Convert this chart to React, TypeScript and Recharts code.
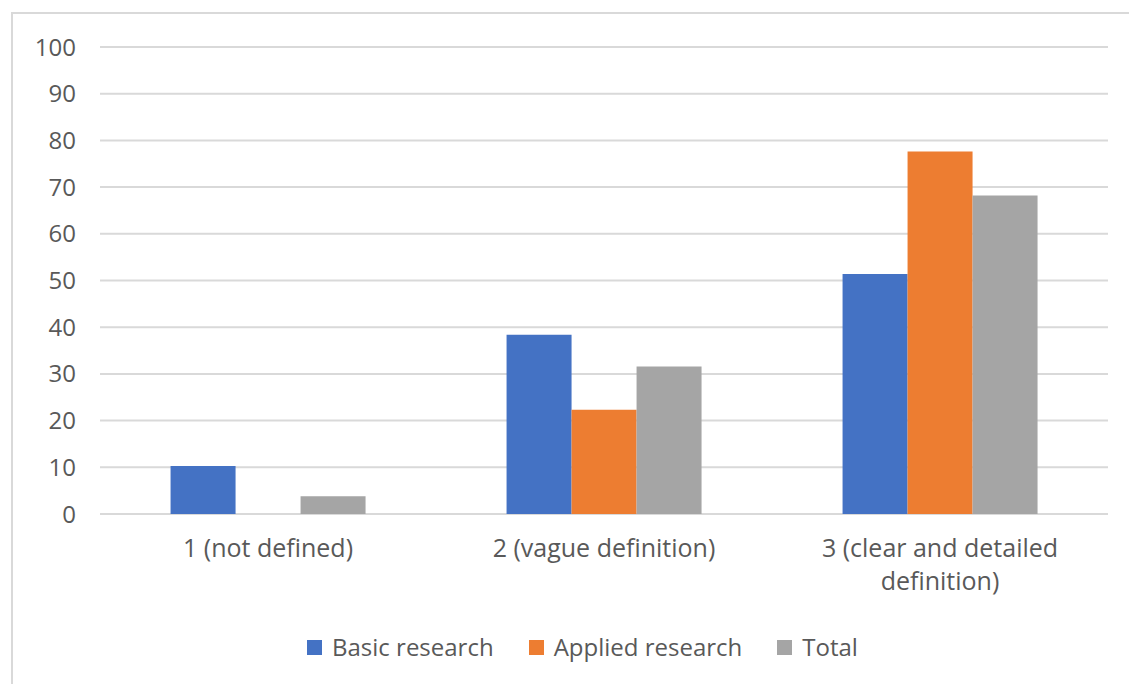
import React from 'react';
import { BarChart, Bar, XAxis, YAxis, CartesianGrid } from 'recharts';

const categories = ['1 (not defined)', '2 (vague definition)', '3 (clear and detailed definition)'];
const basicResearch = [10.3, 38.4, 51.4];
const appliedResearch = [0, 22.3, 77.6];
const total = [3.8, 31.6, 68.2];
const yTicks = [0, 10, 20, 30, 40, 50, 60, 70, 80, 90, 100];

const series = [
  { key: 'basic', name: 'Basic research', color: '#4472C4' },
  { key: 'applied', name: 'Applied research', color: '#ED7D31' },
  { key: 'total', name: 'Total', color: '#A5A5A5' },
];

const data = categories.map((category, i) => ({
  category,
  basic: basicResearch[i],
  applied: appliedResearch[i],
  total: total[i],
}));

const FONT = '"Open Sans", sans-serif';
const TEXT = '#595959';
const TICK_FONT_SIZE = 25;

// greedy word wrap using canvas text metrics
function wrapLabel(label: string, maxWidth: number): string[] {
  const ctx = document.createElement('canvas').getContext('2d');
  if (!ctx) return [label];
  ctx.font = `${TICK_FONT_SIZE}px ${FONT}`;
  const words = label.split(' ');
  const lines: string[] = [];
  let line = '';
  words.forEach(w => {
    const next = line ? line + ' ' + w : w;
    if (line && ctx.measureText(next).width > maxWidth) {
      lines.push(line);
      line = w;
    } else {
      line = next;
    }
  });
  if (line) lines.push(line);
  return lines;
}

function CategoryTick({ x, y, payload }: any) {
  const lines = wrapLabel(payload.value, 290);
  return (
    <text x={x} y={y} textAnchor="middle" fill={TEXT} fontSize={TICK_FONT_SIZE} fontFamily={FONT}>
      {lines.map((l, i) => (
        <tspan key={i} x={x} dy={i === 0 ? '0.71em' : 33}>
          {l}
        </tspan>
      ))}
    </text>
  );
}

export default function App() {
  return (
    <div style={{ position: 'absolute', top: 0, left: 0, width: 1129, height: 684, background: '#fff', overflow: 'hidden' }}>
      <div
        style={{
          position: 'absolute',
          left: 11,
          top: 12,
          width: 1200,
          height: 800,
          borderLeft: '2px solid #d9d9d9',
          borderTop: '2px solid #d9d9d9',
        }}
      />
      <div style={{ position: 'absolute', top: 0, left: 0 }}>
        <BarChart
          width={1129}
          height={684}
          data={data}
          margin={{ top: 47, right: 21, left: 0, bottom: 70 }}
          barCategoryGap="21%"
          barGap={0}
        >
          <CartesianGrid vertical={false} stroke="#d9d9d9" strokeWidth={2} />
          <XAxis
            dataKey="category"
            interval={0}
            axisLine={false}
            tickLine={false}
            tickSize={6}
            tickMargin={19}
            height={100}
            tick={<CategoryTick />}
          />
          <YAxis
            width={100}
            domain={[0, 100]}
            ticks={yTicks}
            axisLine={false}
            tickLine={false}
            tickSize={6}
            tickMargin={18}
            tick={{ fill: TEXT, fontSize: 24, fontFamily: FONT }}
          />
          {series.map(s => (
            <Bar key={s.key} dataKey={s.key} name={s.name} fill={s.color} isAnimationActive={false} />
          ))}
        </BarChart>
      </div>
      {/* legend */}
      <div
        style={{
          position: 'absolute',
          top: 631,
          left: 307,
          display: 'flex',
          fontFamily: FONT,
          fontSize: 24,
          color: TEXT,
          lineHeight: '32px',
        }}
      >
        {series.map(s => (
          <div key={s.key} style={{ display: 'flex', alignItems: 'center', marginRight: 35 }}>
            <span style={{ width: 15, height: 15, background: s.color, display: 'inline-block', marginRight: 10 }} />
            <span>{s.name}</span>
          </div>
        ))}
      </div>
    </div>
  );
}
